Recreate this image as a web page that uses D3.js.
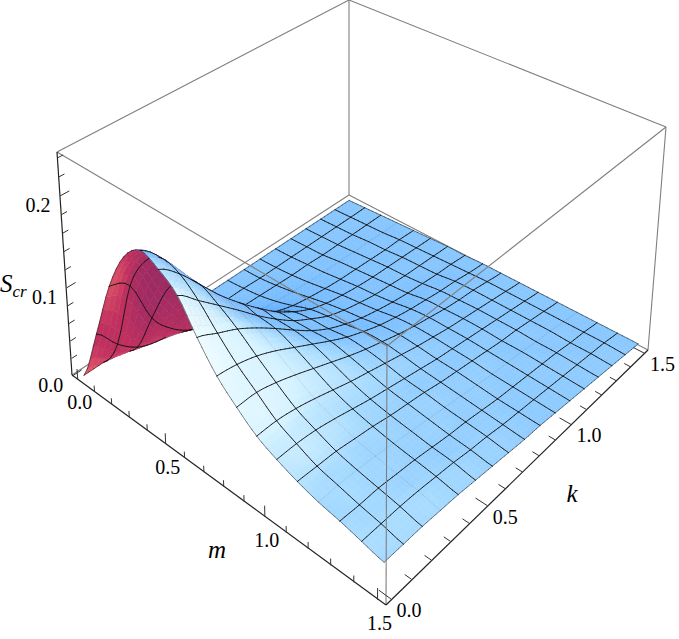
<!DOCTYPE html>
<html>
<head>
<meta charset="utf-8">
<script src="https://cdn.jsdelivr.net/npm/d3@7"></script>
<style>
body { margin: 0; background: #fff; }
text { font-family: "Liberation Serif", serif; fill: #000; }
</style>
</head>
<body>
<svg width="679" height="639"></svg>
<script>
// mesh positions on both axes (15 mesh lines + the two edges)
const mValues = [0, 0.094, 0.188, 0.281, 0.375, 0.469, 0.563, 0.656, 0.75, 0.844, 0.938, 1.031, 1.125, 1.219, 1.313, 1.406, 1.5];
const kValues = mValues.slice();

// Scr, one row per m, one column per k
const scr = [
  [0, 0, 0, 0, 0, 0, 0, 0, 0, 0, 0, 0, 0, 0, 0, 0, 0],
  [.060, .034, .016, .008, .005, .003, .002, .002, .002, .001, .001, .001, .001, .001, .001, .001, .001],
  [.125, .112, .062, .036, .020, .012, .008, .006, .005, .004, .003, .003, .002, .002, .002, .002, .002],
  [.168, .150, .105, .068, .042, .028, .018, .013, .010, .008, .006, .005, .005, .004, .004, .003, .003],
  [.186, .165, .130, .095, .066, .046, .033, .024, .017, .013, .010, .008, .007, .006, .005, .005, .004],
  [.178, .160, .135, .110, .088, .068, .050, .036, .025, .018, .014, .011, .009, .008, .007, .006, .005],
  [.163, .144, .125, .106, .086, .068, .052, .040, .029, .022, .017, .013, .011, .009, .008, .007, .006],
  [.132, .122, .112, .099, .084, .068, .053, .041, .032, .025, .020, .016, .013, .011, .009, .008, .006],
  [.105, .102, .096, .087, .076, .065, .054, .044, .036, .029, .024, .020, .017, .014, .012, .009, .007],
  [.086, .086, .081, .074, .066, .058, .050, .043, .037, .031, .026, .022, .018, .015, .013, .010, .007],
  [.070, .070, .067, .062, .056, .050, .045, .040, .035, .030, .026, .022, .019, .016, .013, .010, .007],
  [.060, .060, .058, .054, .049, .044, .040, .036, .032, .028, .025, .022, .019, .016, .013, .010, .007],
  [.052, .051, .050, .047, .044, .040, .037, .034, .030, .027, .024, .021, .018, .016, .013, .010, .007],
  [.046, .046, .045, .043, .040, .037, .034, .031, .028, .025, .022, .020, .018, .015, .013, .010, .007],
  [.042, .041, .041, .039, .037, .034, .031, .029, .026, .023, .021, .019, .017, .015, .012, .010, .007],
  [.037, .037, .037, .036, .034, .032, .029, .027, .024, .022, .020, .018, .016, .014, .012, .010, .007],
  [.032, .032, .032, .031, .030, .028, .026, .024, .022, .021, .019, .017, .015, .013, .011, .009, .007]
];

// mesh lines that barely show in the reference (index into mValues / kValues)
const faintM = [3, 13];
const faintK = [3];

const mTicks = [0, 0.1, 0.2, 0.3, 0.4, 0.5, 0.6, 0.7, 0.8, 0.9, 1.0, 1.1, 1.2, 1.3, 1.4, 1.5];
const kTicks = mTicks.slice();
const zTicks = [0, 0.02, 0.04, 0.06, 0.08, 0.1, 0.12, 0.14, 0.16, 0.18, 0.2, 0.22, 0.24];
const mLabels = [0, 0.5, 1.0, 1.5];
const kLabels = [0, 0.5, 1.0, 1.5];
const zLabels = [0, 0.1, 0.2];

const svg = d3.select("svg");

const xScale = d3.scaleLinear().domain([-0.03, 1.53]).range([0, 1]);
const yScale = d3.scaleLinear().domain([-0.03, 1.53]).range([0, 1]);
const zScale = d3.scaleLinear().domain([0, 0.247]).range([0, 1]);

// where the corners of the box land in the picture: x, y, z (0/1) -> pixel
const boxCorners = [
  [0, 0, 0, 72, 375], [1, 0, 0, 386, 605], [1, 1, 0, 648, 350], [0, 1, 0, 349, 195],
  [0, 0, 1, 57, 152], [1, 0, 1, 387, 346], [1, 1, 1, 666, 127], [0, 1, 1, 349, 0]
];

// least squares for the projective camera through those corners
function fitCamera(corners) {
    let rows = [], rhs = [];
    corners.forEach(([x, y, z, u, v]) => {
        rows.push([1, x, y, z, 0, 0, 0, 0, -u * x, -u * y, -u * z]); rhs.push(u);
        rows.push([0, 0, 0, 0, 1, x, y, z, -v * x, -v * y, -v * z]); rhs.push(v);
    });
    const n = 11;
    let A = d3.range(n).map(i => d3.range(n + 1).map(j =>
        d3.sum(rows, (r, q) => r[i] * (j < n ? r[j] : rhs[q]))));
    for (let c = 0; c < n; c++) {
        let p = c;
        for (let r = c + 1; r < n; r++) if (Math.abs(A[r][c]) > Math.abs(A[p][c])) p = r;
        [A[c], A[p]] = [A[p], A[c]];
        for (let r = 0; r < n; r++) {
            if (r === c) continue;
            const f = A[r][c] / A[c][c];
            for (let j = c; j <= n; j++) A[r][j] -= f * A[c][j];
        }
    }
    return A.map((r, i) => r[n] / r[i]);
}
const cam = fitCamera(boxCorners);

function project(m, k, z) {
    const x = xScale(m), y = yScale(k), h = zScale(z);
    const w = 1 + cam[8] * x + cam[9] * y + cam[10] * h;
    return [
        (cam[0] + cam[1] * x + cam[2] * y + cam[3] * h) / w,
        (cam[4] + cam[5] * x + cam[6] * y + cam[7] * h) / w,
        w
    ];
}

// smooth drawing of the surface between the read values
const sub = 4;
const last = mValues.length - 1;
function spline(a, b, c, d, t) {
    return 0.5 * (2 * b + (c - a) * t + (2 * a - 5 * b + 4 * c - d) * t * t + (3 * b - a - 3 * c + d) * t * t * t);
}
const clampIdx = i => Math.max(0, Math.min(last, i));
function scrAt(u, v) {
    const i = Math.min(last - 1, Math.floor(u)), j = Math.min(last - 1, Math.floor(v));
    const s = u - i, t = v - j;
    const col = [-1, 0, 1, 2].map(di => {
        const row = scr[clampIdx(i + di)];
        return spline(row[clampIdx(j - 1)], row[j], row[j + 1], row[clampIdx(j + 2)], t);
    });
    return spline(col[0], col[1], col[2], col[3], s);
}
const gridM = d3.scaleLinear().domain(d3.range(mValues.length)).range(mValues);
const gridK = d3.scaleLinear().domain(d3.range(kValues.length)).range(kValues);

const size = last * sub;
const verts = d3.range(size + 1).map(a => d3.range(size + 1).map(b => {
    const m = gridM(a / sub), k = gridK(b / sub), z = scrAt(a / sub, b / sub);
    return { m, k, z, p: project(m, k, z) };
}));

const frontColor = d3.scaleLinear()
    .domain([0.05, 0.38, 0.63, 0.73, 0.85, 1])
    .range(["#4a9dff", "#68b2ff", "#8ac8ff", "#a6daff", "#d4f2ff", "#eefbff"])
    .clamp(true);
const backColor = d3.scaleLinear()
    .domain([0, -0.3, -0.7])
    .range(["#e8606a", "#c0305f", "#9c2a62"])
    .clamp(true);

// normal taken over a whole mesh cell so the shading stays soft
function normalAt(u, v) {
    const u0 = Math.max(0, u - 0.5), u1 = Math.min(last, u + 0.5);
    const v0 = Math.max(0, v - 0.5), v1 = Math.min(last, v + 0.5);
    const dx = xScale(gridM(u1)) - xScale(gridM(u0)), dy = yScale(gridK(v1)) - yScale(gridK(v0));
    // box ratios 1 : 1 : 0.4
    const zx = 0.4 * (zScale(scrAt(u1, v)) - zScale(scrAt(u0, v))) / dx;
    const zy = 0.4 * (zScale(scrAt(u, v1)) - zScale(scrAt(u, v0))) / dy;
    const len = Math.hypot(zx, zy, 1);
    return [-zx / len, -zy / len, 1 / len];
}

const refArea = d3.polygonArea([[72, 375], [386, 605], [648, 350], [349, 195]]);
function quadColor(q, a, b) {
    const n = normalAt((a + 0.5) / sub, (b + 0.5) / sub);
    // signed area in the picture tells which side we look at
    const area = d3.polygonArea(q.map(v => v.p));
    if (area * refArea > 0) {
        return frontColor(n[0] * 0.85 - n[1] * 0.1 + n[2] * 0.63);
    }
    return backColor(-n[1]);
}

let items = [];
for (let a = 0; a < size; a++) {
    for (let b = 0; b < size; b++) {
        const q = [verts[a][b], verts[a + 1][b], verts[a + 1][b + 1], verts[a][b + 1]];
        items.push({ type: "quad", pts: q.map(v => v.p), depth: d3.mean(q, v => v.p[2]), color: quadColor(q, a, b) });
    }
}
// mesh lines go in the same depth order so the ridge can hide them
const lift = 0.012;
function addLine(v0, v1, type) {
    items.push({ type: type, pts: [v0.p, v1.p], depth: (v0.p[2] + v1.p[2]) / 2 - lift });
}
for (let i = 0; i <= last; i++) {
    const edge = i === 0 || i === last;
    const mType = edge ? "edge" : (faintM.includes(i) ? "faint" : "mesh");
    const kType = edge ? "edge" : (faintK.includes(i) ? "faint" : "mesh");
    for (let s = 0; s < size; s++) {
        addLine(verts[i * sub][s], verts[i * sub][s + 1], mType);
        addLine(verts[s][i * sub], verts[s + 1][i * sub], kType);
    }
}
items.sort((p, q) => q.depth - p.depth);

const corner = (i) => {
    const c = boxCorners[i];
    return [c[3], c[4]];
};
const lineGen = d3.line();

// box edges behind the surface
const backEdges = [[3, 2], [3, 0], [3, 7], [7, 4], [7, 6]];
svg.append("g").selectAll("path").data(backEdges).join("path")
    .attr("d", d => lineGen([corner(d[0]), corner(d[1])]))
    .attr("stroke", "#7f7f7f").attr("stroke-width", 1.1).attr("fill", "none");

const lineWidth = { quad: 0.6, mesh: 0.9, edge: 0.5, faint: 0.7 };
svg.append("g").selectAll("path").data(items).join("path")
    .attr("d", d => lineGen(d.pts.map(p => [p[0], p[1]])) + (d.type === "quad" ? "Z" : ""))
    .attr("fill", d => d.type === "quad" ? d.color : "none")
    .attr("stroke", d => d.type === "quad" ? d.color : "#111")
    .attr("stroke-width", d => lineWidth[d.type])
    .attr("stroke-opacity", d => d.type === "faint" ? 0.12 : 1)
    .attr("stroke-linecap", "round");

// box edges in front
const frontGrey = [[4, 5], [5, 6], [2, 6], [1, 5]];
svg.append("g").selectAll("path").data(frontGrey).join("path")
    .attr("d", d => lineGen([corner(d[0]), corner(d[1])]))
    .attr("stroke", "#7f7f7f").attr("stroke-width", 1.1).attr("fill", "none");
const axisEdges = [[0, 4], [0, 1], [1, 2]];
svg.append("g").selectAll("path").data(axisEdges).join("path")
    .attr("d", d => lineGen([corner(d[0]), corner(d[1])]))
    .attr("stroke", "#222").attr("stroke-width", 1.2).attr("fill", "none");

// ticks
const kEdge = -0.03, mEdge = -0.03;
const isMajor = (v, step) => Math.abs(v / step - Math.round(v / step)) < 1e-6;
const ticks = svg.append("g").attr("stroke", "#333").attr("stroke-width", 1).attr("fill", "none");
ticks.selectAll(".m").data(mTicks).join("path").attr("class", "m")
    .attr("d", d => {
        const len = isMajor(d, 0.5) ? 0.012 : 0.007;
        return lineGen([project(d, kEdge, 0), project(d, kEdge, len)].map(p => [p[0], p[1]]));
    });
ticks.selectAll(".k").data(kTicks).join("path").attr("class", "k")
    .attr("d", d => {
        const len = isMajor(d, 0.5) ? 0.05 : 0.028;
        return lineGen([project(1.53, d, 0), project(1.53 - len, d, 0)].map(p => [p[0], p[1]]));
    });
ticks.selectAll(".z").data(zTicks).join("path").attr("class", "z")
    .attr("d", d => {
        const len = isMajor(d, 0.1) ? 0.042 : 0.026;
        return lineGen([project(mEdge, kEdge, d), project(mEdge, kEdge + len, d)].map(p => [p[0], p[1]]));
    });

// tick labels
const fmt = d3.format(".1f");
function addLabels(data, pos, dx, dy) {
    svg.append("g").selectAll("text").data(data).join("text")
        .attr("x", d => pos(d)[0] + dx)
        .attr("y", d => pos(d)[1] + dy)
        .attr("text-anchor", "middle")
        .attr("font-size", 20)
        .text(fmt);
}
addLabels(mLabels, d => project(d, kEdge, 0), 2, 30);
addLabels(kLabels, d => project(1.53, d, 0), 18, 18);
addLabels(zLabels, d => project(mEdge, kEdge, d), -22, 16);

// axis titles
function addTitle(x, y, txt) {
    return svg.append("text").attr("x", x).attr("y", y).attr("text-anchor", "middle")
        .attr("font-size", 25).attr("font-style", "italic").text(txt);
}
addTitle(217, 558, "m");
addTitle(572, 502, "k");
const sTitle = svg.append("text").attr("x", 0).attr("y", 292)
    .attr("font-size", 25).attr("font-style", "italic");
sTitle.append("tspan").text("S");
sTitle.append("tspan").attr("dy", 5).attr("font-size", 17).text("cr");
</script>
</body>
</html>
